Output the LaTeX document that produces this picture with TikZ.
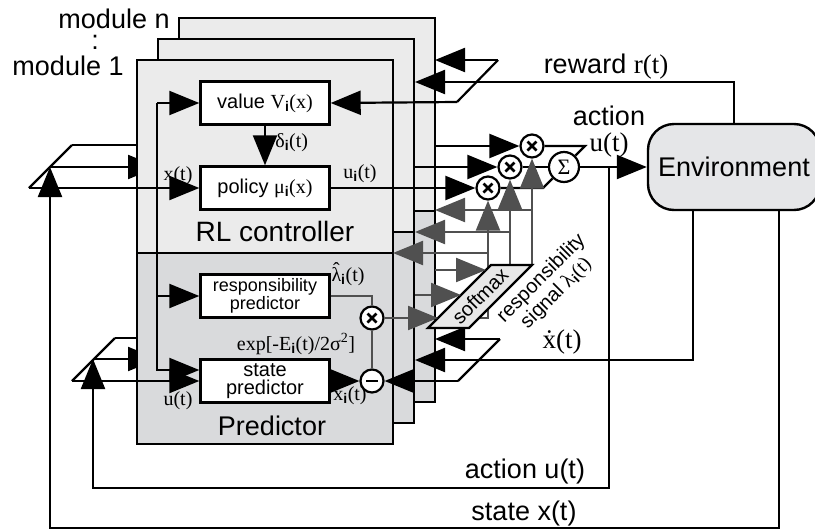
\documentclass[tikz,border=0pt]{standalone}
\usepackage{fontspec}
\setmainfont{Liberation Sans}
\newfontfamily\tms{Liberation Serif}
\usetikzlibrary{arrows.meta}
\definecolor{modtop}{HTML}{EBEBEB}
\definecolor{modbot}{HTML}{D9DADC}
\definecolor{envfill}{HTML}{E5E6E8}
\definecolor{smfill}{HTML}{E8E8E8}
\definecolor{wgray}{HTML}{505050}
\newcommand{\isub}{\textsubscript{\rmfamily\bfseries i}}
\newcommand{\xdot}{\accent"02D9 x}
\newcommand{\lhat}{\accent"02C6 λ}

\begin{document}
\begin{tikzpicture}[x=1pt, y=-1pt, line width=2.2pt,
  >={Triangle[length=30pt,width=24pt]},
  gw/.style={draw=wgray, color=wgray},
  blk/.style={draw, line width=2.4pt, fill=white, minimum width=129pt, minimum height=43pt, inner sep=0pt, align=center},
  op/.style={circle, draw, fill=white, minimum size=23pt, inner sep=0pt},
  mulop/.style={path picture={\draw[line width=2.6pt] ([shift={(-4.5pt,-4.5pt)}]path picture bounding box.center) -- ([shift={(4.5pt,4.5pt)}]path picture bounding box.center) ([shift={(-4.5pt,4.5pt)}]path picture bounding box.center) -- ([shift={(4.5pt,-4.5pt)}]path picture bounding box.center);}},
  subop/.style={path picture={\draw[line width=2.6pt] ([xshift=-6pt]path picture bounding box.center) -- ([xshift=6pt]path picture bounding box.center);}},
  big/.style={font=\fontsize{27}{28}\selectfont},
  bigm/.style={font=\tms\fontsize{27}{28}\selectfont},
  mid/.style={font=\fontsize{20}{20}\selectfont},
  sm/.style={font=\tms\fontsize{20}{20}\selectfont}]
\useasboundingbox (0,0) rectangle (815,531);

\foreach \d in {42,21}{
  \fill[modtop] (137+\d,60-\d) rectangle (393+\d,253-\d);
  \fill[modbot] (137+\d,253-\d) rectangle (393+\d,444-\d);
  \draw[line width=2.4pt] (137+\d,60-\d) rectangle (393+\d,444-\d) (137+\d,253-\d) -- (393+\d,253-\d);
}
\node[big, anchor=base east] (modn) at (174,28) {module n};
\node[big] (modd) at (95,42) {:};
\node[big, anchor=base east] (mod1) at (128,75) {module 1};

\coordinate (xa) at (72,145);
\coordinate (xb) at (50,167);
\coordinate (xc) at (29,188);
\coordinate (ua) at (115,338);
\coordinate (ub) at (93,359);
\coordinate (uc) at (72,381);
\draw[->] (xa) -- (179,145);
\draw[->] (xb) -- (158,167);
\draw[->] (ua) -- (179,338);
\draw[->] (ub) -- (158,359);

\fill[modtop] (137,60) rectangle (393,253);
\fill[modbot] (137,253) rectangle (393,444);
\draw[line width=2.4pt] (137,60) rectangle (393,444) (137,253) -- (393,253);

\node[blk, mid] (val) at (265,103) {value {\tms V\isub(x)}};
\node[blk, mid] (pol) at (265,188) {policy {\tms μ\isub(x)}};
\node[blk, font=\fontsize{18}{16}\selectfont] (resp) at (265,296) {responsibility\\predictor};
\node[blk, font=\fontsize{20}{18}\selectfont] (stp) at (265,381) {state\\predictor};
\node[op, mulop] (mul1) at (372,318) {};
\node[op, subop] (sub1) at (372,381) {};
\node[big, anchor=base, font=\fontsize{28}{28}\selectfont] (rlc) at (275,241) {RL controller};
\node[big, anchor=base] (prd) at (272,435) {Predictor};

\node[sm, anchor=base] (lx) at (178,180) {x(t)};
\node[sm, anchor=base west] (ldel) at (271,147) {δ\isub(t)};
\node[sm, anchor=base] (lui) at (360,178) {u\isub(t)};
\node[sm, anchor=base] (llam) at (348,281) {\lhat\isub(t)};
\node[sm, anchor=base] (lexp) at (296,350) {exp[-E\isub(t)/2σ\textsuperscript{2}]};
\node[sm, anchor=base] (lxi) at (350,400) {\xdot\isub(t)};
\node[sm, anchor=base] (lu) at (178,405) {u(t)};

\coordinate (xtop) at (157,103);
\draw (xc) -- (xa);
\draw[->] (xc) -- (pol.west);
\draw[->] (xtop) -- (val.west);
\draw[->] (xtop) |- ([yshift=11pt]stp.west);
\draw[->] (xtop |- resp.west) -- (resp.west);
\draw[->] (val.south) -- (pol.north);
\draw (uc) -- (ua);
\draw[->] (uc) -- (stp.west);
\draw[->] (stp.east) -- (sub1.west);
\draw[gw] (resp.east) -| (mul1.north);
\draw[gw] (sub1.north) -- (mul1.south);

\node[draw, line width=2.4pt, fill=envfill, rounded corners=26pt, minimum width=172pt, minimum height=86pt, font=\fontsize{27}{28}\selectfont] (env) at (734,167) {Environment};
\node[op, mulop] (mulA) at (532,146) {};
\node[op, mulop] (mulB) at (510,167) {};
\node[op, mulop] (mulC) at (488,188) {};
\node[op, minimum size=30pt, font=\tms\fontsize{22}{22}\selectfont] (sum) at (564,167) {Σ};

\coordinate (oN) at (435,146);
\coordinate (o2) at (415,167);
\coordinate (mA) at (585,146);
\coordinate (mC) at (543,188);
\draw[->] (oN) -- (mulA.west);
\draw[->] (o2) -- (mulB.west);
\draw[->] (pol.east) -- (mulC.west);
\draw (mulA.east) -- (mA) -- (sum.north east);
\draw (mulC.east) -- (mC) -- (sum.south west);
\draw (mulB.east) -- (sum.west);
\draw[->] (sum.east) -- (env.west);

\coordinate (ujn) at (609,167);
\coordinate (ubot) at (93,488);
\coordinate (xbot) at (50,528);
\draw[->] (ujn) |- (ubot) -- (ub);
\draw[->] ([xshift=45pt]env.south) |- (xbot) -- (xb);

\coordinate (ra) at (498,60);
\coordinate (rc) at (457,102);
\coordinate (rN) at (435,60);
\coordinate (r2) at (415,82);
\draw (rc) -- (ra);
\draw[->] (ra) -- (rN);
\draw[->] (env.north) |- (r2);
\draw[->] (rc) -- (val.east);

\coordinate (da) at (500,339);
\coordinate (dc) at (458,381);
\coordinate (dN) at (435,339);
\coordinate (d2) at (415,360);
\draw (dc) -- (da);
\draw[->] (da) -- (dN);
\draw[->] ([xshift=-41pt]env.south) |- (d2);
\draw[->] (dc) -- (sub1.east);

\coordinate (sA) at (491,265);
\coordinate (sB) at (532,265);
\coordinate (sC) at (469,328);
\coordinate (sD) at (428,328);
\coordinate (c1) at (488,318);
\coordinate (lN) at (435,210);
\coordinate (l2) at (415,232);
\coordinate (l1) at (393,253);
\draw[gw,->] (mul1.east) -- (c1) -- (mulC.south);
\draw[gw,->] (mulB |- sA) -- (mulB.south);
\draw[gw,->] (mulA |- sA) -- (mulA.south);
\draw[gw,->] (mulA |- lN) -- (lN);
\draw[gw,->] (mulB |- l2) -- (l2);
\draw[gw,->] (mulC |- l1) -- (l1);

\draw[fill=smfill] (sA) -- (sB) -- (sC) -- (sD) -- cycle;
\node[mid, rotate=45] (smax) at (480,296) {softmax};
\coordinate (iN) at (435,270);
\coordinate (i2) at (415,295);
\coordinate (eN) at (486,270);
\coordinate (e2) at (461,295);
\coordinate (e1) at (438,318);
\draw[gw,->] (iN) -- (eN);
\draw[gw,->] (i2) -- (e2);
\draw[gw,->] (mul1.east) -- (e1);
\node[rotate=45, align=center, font=\fontsize{20}{21}\selectfont] (rsig) at (549,286) {responsibility\\signal {\tms λ\isub(t)}};

\node[big, anchor=base] (lrew) at (606,73) {reward {\tms r(t)}};
\node[big, anchor=base] (lact) at (609,125) {action};
\node[bigm, anchor=base] (lut) at (609,151) {u(t)};
\node[bigm, anchor=base] (lxd) at (562,348) {\xdot(t)};
\node[big, anchor=base] (lact2) at (525,478) {action u(t)};
\node[big, anchor=base] (lst) at (524,520) {state x(t)};
\end{tikzpicture}
\end{document}
